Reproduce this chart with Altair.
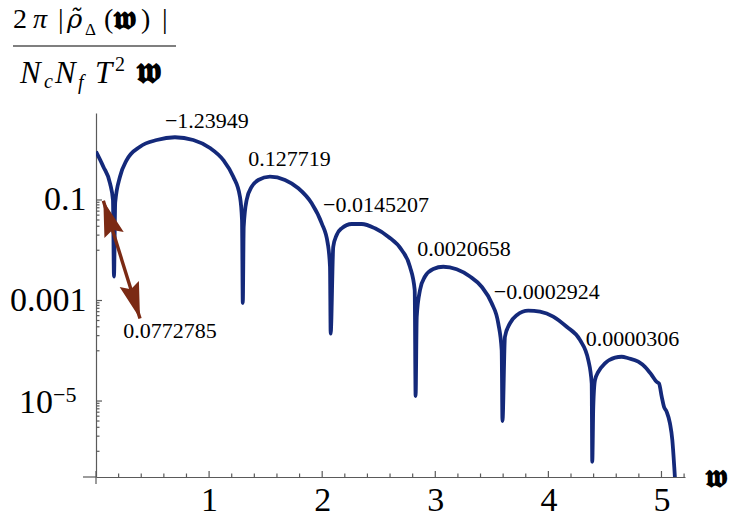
import altair as alt
import pandas as pd

# ---------------- data ----------------
w = [0.000, 0.065, 0.124, 0.150, 0.159, 0.170, 0.212, 0.271, 0.389, 0.537,
     0.698, 0.860, 1.008, 1.126, 1.214, 1.273, 1.291, 1.298, 1.306, 1.332,
     1.377, 1.435, 1.538, 1.671, 1.789, 1.907, 1.996, 2.049, 2.069, 2.075,
     2.098, 2.128, 2.172, 2.261, 2.349, 2.467, 2.584, 2.703, 2.776, 2.818,
     2.826, 2.836, 2.865, 2.909, 2.982, 3.071, 3.189, 3.307, 3.410, 3.499,
     3.557, 3.587, 3.594, 3.616, 3.660, 3.720, 3.822, 3.926, 4.043, 4.162,
     4.279, 4.353, 4.383, 4.388, 4.397, 4.412, 4.441, 4.500, 4.589, 4.648,
     4.707, 4.795, 4.854, 4.913, 4.958, 4.978, 5.002, 5.022, 5.046, 5.075,
     5.096, 5.113, 5.119]
rho = [0.92, 0.46, 0.215, 0.1, 0.0030, 0.09, 0.29, 0.62, 1.15, 1.56,
       1.77, 1.56, 1.08, 0.62, 0.29, 0.116, 0.040, 0.00089, 0.029, 0.1,
       0.184, 0.25, 0.291, 0.25, 0.171, 0.086, 0.0343, 0.0137, 0.0047, 2.2e-4,
       0.0118, 0.0201, 0.0273, 0.0333, 0.0333, 0.0273, 0.0186, 0.0101, 0.0047, 0.00162,
       1.26e-5, 4.8e-4, 0.00162, 0.0030, 0.00424, 0.0047, 0.00418, 0.0030, 0.00188, 8.8e-4,
       3.5e-4, 1.03e-4, 4.0e-6, 1.9e-4, 3.5e-4, 5.1e-4, 6.3e-4, 6.0e-4, 4.8e-4, 3.0e-4,
       1.64e-4, 6.5e-5, 2.25e-5, 6.2e-7, 7.7e-6, 2.6e-5, 3.8e-5, 5.6e-5, 7.3e-5, 7.6e-5,
       7.1e-5, 6.1e-5, 4.8e-5, 3.3e-5, 2.4e-5, 2.25e-5, 1.22e-5, 7.7e-6, 6.1e-6, 3.6e-6,
       1.67e-6, 4.9e-7, 3.0e-7]

label_text = ["\u22121.23949", "0.127719", "\u22120.0145207", "0.0020658",
              "\u22120.0002924", "0.0000306", "0.0772785"]
label_w = [0.98, 1.711, 2.476, 3.254, 3.985, 4.744, 0.654]
label_rho = [3.73, 0.654, 0.0795, 0.0106, 0.00148, 1.71e-4, 2.47e-4]

arrow_w = [0.065, 0.389]
arrow_rho = [0.097, 4.4e-4]

x_tick_labels = [1, 2, 3, 4, 5]
x_major_ticks = [0, 1, 2, 3, 4, 5]
x_minor_ticks = [0.2, 0.4, 0.6, 0.8, 1.2, 1.4, 1.6, 1.8, 2.2, 2.4, 2.6, 2.8,
                 3.2, 3.4, 3.6, 3.8, 4.2, 4.4, 4.6, 4.8, 5.2]
y_tick_labels = [0.1, 0.001, 1e-5]
y_minor_ticks = [0.09, 0.08, 0.07, 0.06, 0.05, 0.04, 0.03, 0.02, 0.01,
                 9e-4, 8e-4, 7e-4, 6e-4, 5e-4, 4e-4, 3e-4, 2e-4, 1e-4,
                 9e-6, 8e-6, 7e-6, 6e-6, 5e-6, 4e-6, 3e-6, 2e-6, 1e-6]

# ---------------- style ----------------
SERIF = "Liberation Serif"
LINE = "#14297a"
ARROW = "#7b2a14"
AXIS = "#5a5a5a"
LEFT, TOP = 96, 113
W, H = 589, 364
FRAK = "\U0001D59C"  # bold fraktur w

xs = alt.Scale(domain=[0, 5.208], nice=False, zero=False)
ys = alt.Scale(type="log", domain=[3.08e-7, 5.38], nice=False)

curve = alt.Chart(pd.DataFrame({"w": w, "rho": rho})).mark_line(
    color=LINE, strokeWidth=3.8, interpolate="monotone", clip=True
).encode(
    x=alt.X("w:Q", scale=xs, axis=alt.Axis(
        orient="bottom", values=x_tick_labels, ticks=False, tickSize=0,
        labelFont=SERIF, labelFontSize=34, labelColor="black", labelPadding=6,
        domainColor=AXIS, domainWidth=1.2, grid=False, title=None, format="d")),
    y=alt.Y("rho:Q", scale=ys, axis=alt.Axis(
        orient="left", values=y_tick_labels, ticks=False, tickSize=0,
        labelExpr="datum.value < 0.0001 ? '' : (datum.value < 0.01 ? '0.001' : '0.1')",
        labelFont=SERIF, labelFontSize=34, labelColor="black", labelPadding=10,
        domainColor=AXIS, domainWidth=1.2, grid=False, title=None)),
)

labels = alt.Chart(pd.DataFrame({"w": label_w, "rho": label_rho, "t": label_text})).mark_text(
    font=SERIF, fontSize=22, color="black", baseline="middle", align="center"
).encode(
    x=alt.X("w:Q", scale=xs, axis=None),
    y=alt.Y("rho:Q", scale=ys, axis=None),
    text="t:N",
)


def xticks(vals, size):
    return alt.Chart(pd.DataFrame({"v": vals})).mark_rule(color=AXIS, strokeWidth=1.2).encode(
        x=alt.X("v:Q", scale=xs, axis=None), y=alt.value(H), y2=alt.value(H - size))


def yticks(vals, size):
    return alt.Chart(pd.DataFrame({"v": vals})).mark_rule(color=AXIS, strokeWidth=1.2).encode(
        y=alt.Y("v:Q", scale=ys, axis=None), x=alt.value(0), x2=alt.value(size))


ticks = [xticks(x_major_ticks, 6), xticks(x_minor_ticks, 3.5),
         yticks(y_tick_labels, 6), yticks(y_minor_ticks, 3.5)]

arrow_df = pd.DataFrame({"w": arrow_w, "rho": arrow_rho})
enc = dict(x=alt.X("w:Q", scale=xs, axis=None), y=alt.Y("rho:Q", scale=ys, axis=None))
shaft = alt.Chart(arrow_df).mark_line(color=ARROW, strokeWidth=3.4).encode(**enc)
HEAD = "M0,0L-0.56,2L0,1.7L0.56,2Z"
head_top = alt.Chart(arrow_df.iloc[[0]]).mark_point(
    shape=HEAD, angle=342.7, size=1300, filled=True, fill=ARROW, opacity=1, strokeWidth=0
).encode(**enc)
head_bot = alt.Chart(arrow_df.iloc[[1]]).mark_point(
    shape=HEAD, angle=162.7, size=1300, filled=True, fill=ARROW, opacity=1, strokeWidth=0
).encode(**enc)

one = pd.DataFrame({"a": [0]})


def txt(s, px, py, size, style="normal", weight="normal", align="left",
        baseline="alphabetic", font=SERIF):
    return alt.Chart(one).mark_text(
        text=s, font=font, fontSize=size, fontStyle=style, fontWeight=weight,
        align=align, baseline=baseline, color="black"
    ).encode(x=alt.value(px - LEFT), y=alt.value(py - TOP))


def rule(x1, x2, y1, y2, color, width):
    return alt.Chart(one).mark_rule(color=color, strokeWidth=width).encode(
        x=alt.value(x1 - LEFT), x2=alt.value(x2 - LEFT),
        y=alt.value(y1 - TOP), y2=alt.value(y2 - TOP))


title_parts = [
    txt("2", 13, 28, 28),
    txt("\u03c0", 33, 28, 28, "italic"),
    txt("|", 58, 28, 28),
    txt("\u03c1\u0303", 67, 28, 26, "italic", font="DejaVu Serif"),
    txt("\u0394", 85, 35, 17),
    txt("(", 104, 28, 28),
    txt(FRAK, 113, 29, 33, weight="bold"),
    txt(")", 141, 28, 28),
    txt("|", 162, 28, 28),
    rule(13, 176, 46, 46, "black", 1.2),
    txt("N", 20, 83, 31, "italic"),
    txt("c", 44, 88, 20, "italic"),
    txt("N", 55, 83, 31, "italic"),
    txt("f", 78, 89, 20, "italic"),
    txt("T", 95, 83, 31, "italic"),
    txt("2", 115, 71, 20),
    txt(FRAK, 136, 83, 36, weight="bold"),
    # label of the 1e-5 tick: 10 with a raised -5
    txt("10", 53, 413, 34, align="right"),
    txt("\u22125", 53, 402, 22),
    txt(FRAK, 716, 477, 32, weight="bold", align="center", baseline="middle"),
    rule(83, 96, 477, 477, AXIS, 1.2),
    rule(96, 96, 477, 484, AXIS, 1.2),
]

chart = alt.layer(curve, *ticks, labels, shaft, head_top, head_bot, *title_parts).resolve_axis(
    x="independent", y="independent"
).properties(
    width=W, height=H,
    autosize=alt.AutoSizeParams(type="none"),
    padding={"left": LEFT, "top": TOP, "right": 730 - LEFT - W, "bottom": 521 - TOP - H},
    background="white",
).configure_view(stroke=None)

chart.save("out.html", embed_options={"renderer": "svg", "actions": False})
